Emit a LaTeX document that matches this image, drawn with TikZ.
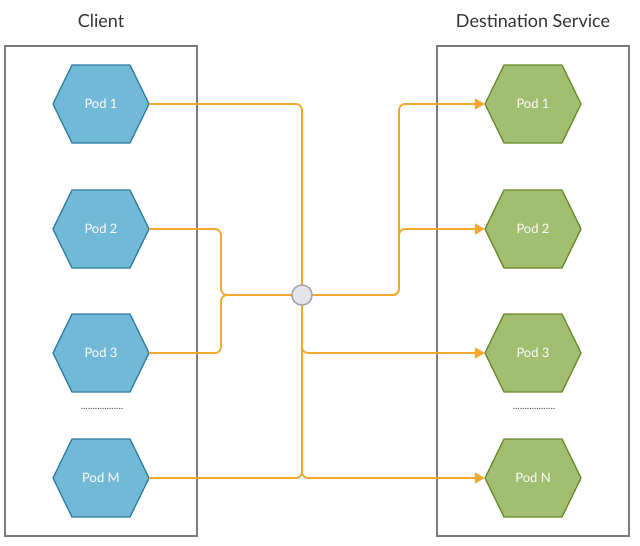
\documentclass[tikz,border=0pt]{standalone}
\usepackage{fontspec}
\setmainfont{Lato}
\usetikzlibrary{arrows.meta}
\definecolor{flow}{HTML}{F0A830}
\definecolor{bluefill}{HTML}{72B9D8}
\definecolor{blueline}{HTML}{2E7EA0}
\definecolor{greenfill}{HTML}{A2BE70}
\definecolor{greenline}{HTML}{6A8A2C}
\definecolor{boxline}{HTML}{7A7A7A}
\definecolor{hubfill}{HTML}{E4E4EA}
\definecolor{hubline}{HTML}{A2A2AA}
\tikzset{
  groupbox/.style={draw=boxline, line width=2pt},
  title/.style={font=\fontsize{18}{20}\selectfont, text=black!80},
  podlabel/.style={font=\fontsize{13}{15}\selectfont, text=white},
  anchorbox/.style={minimum width=96pt, minimum height=78pt, inner sep=0pt},
  flowline/.style={draw=flow, line width=1.8pt, rounded corners=6pt},
  flowarrow/.style={flowline, -{Triangle[length=10pt,width=11pt]}},
  dotsym/.style={font=\fontsize{10}{12}\selectfont, text=black!70}
}
\newcommand{\hexpod}[5]{%
  \path[fill=#4fill, draw=#4line, line width=1.3pt]
    (#2-48,#3) -- (#2-29,#3-39) -- (#2+29,#3-39) -- (#2+48,#3)
    -- (#2+29,#3+39) -- (#2-29,#3+39) -- cycle;
  \node[anchorbox, podlabel] (#1) at (#2,#3) {#5};
}
\begin{document}
\begin{tikzpicture}[x=1pt,y=-1pt]
\useasboundingbox (0,0) rectangle (640,546);
% group boxes
\draw[groupbox] (5,46) rectangle (197,536);
\draw[groupbox] (437,46) rectangle (629,536);
\node[title] (tclient) at (101,21) {Client};
\node[title] (tdest) at (533,21) {Destination Service};
% client pods
\hexpod{c1}{101}{104}{blue}{Pod 1}
\hexpod{c2}{101}{229}{blue}{Pod 2}
\hexpod{c3}{101}{353}{blue}{Pod 3}
\hexpod{cM}{101}{478}{blue}{Pod M}
\node[dotsym] (cdots) at (102,409) {..................};
% destination pods
\hexpod{d1}{533}{104}{green}{Pod 1}
\hexpod{d2}{533}{229}{green}{Pod 2}
\hexpod{d3}{533}{353}{green}{Pod 3}
\hexpod{dN}{533}{478}{green}{Pod N}
\node[dotsym] (ddots) at (534,409) {..................};
% hub
\node[circle, fill=hubfill, draw=hubline, line width=1.3pt, minimum size=20pt, inner sep=0pt] (hub) at (302,295) {};
\coordinate (jl) at (221,295);
\coordinate (jr) at (399,295);
% inbound
\draw[flowline] (c1.east) -| (hub.north);
\draw[flowline] (c2.east) -| (jl) -- (hub.west);
\draw[flowline] (c3.east) -| (jl) -- (hub.west);
\draw[flowline] (cM.east) -| (hub.south);
% outbound
\draw[flowarrow] (hub.east) -- (jr) |- (d1.west);
\draw[flowarrow] (hub.east) -- (jr) |- (d2.west);
\draw[flowarrow] (hub.south) |- (d3.west);
\draw[flowarrow] (hub.south) |- (dN.west);
% redraw hub on top
\node[circle, fill=hubfill, draw=hubline, line width=1.3pt, minimum size=20pt, inner sep=0pt] (hubtop) at (hub) {};
\end{tikzpicture}
\end{document}
